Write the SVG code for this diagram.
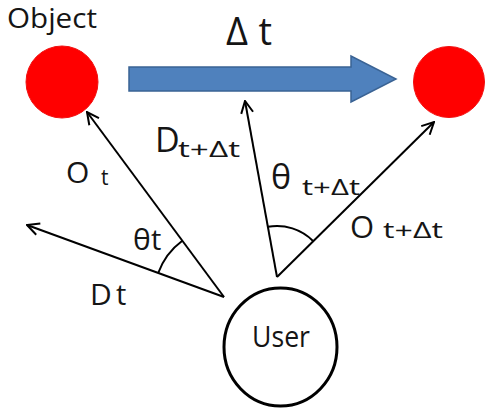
<svg xmlns="http://www.w3.org/2000/svg" width="486" height="410" viewBox="0 0 486 410">
  <defs>
    <marker id="open-arrow" viewBox="0 0 14 14" refX="13" refY="7" markerWidth="14" markerHeight="14" markerUnits="userSpaceOnUse" orient="auto">
      <polyline points="1,1 13,7 1,13" fill="none" stroke="#000" stroke-width="2" stroke-linejoin="miter"/>
    </marker>
  </defs>
  <style>
    text { font-family: "Open Sans", "Liberation Sans", Arial, sans-serif; fill: #151515; }
    .ray { stroke: #000; stroke-width: 2; fill: none; marker-end: url(#open-arrow); }
    .angle { stroke: #000; stroke-width: 2; fill: none; }
    .object { fill: #ff0000; stroke: #f21010; stroke-width: 1; }
    .big { font-size: 30px; }
    .sub { font-size: 21px; }
  </style>

  <rect width="486" height="410" fill="#fff"/>

  <!-- Object at time t -->
  <g id="object-t">
    <text x="7" y="28" font-size="27" textLength="90" lengthAdjust="spacingAndGlyphs">Object</text>
    <circle cx="62" cy="82" r="36" class="object"/>
  </g>

  <!-- Object at time t + Δt -->
  <g id="object-t-dt">
    <circle cx="449" cy="82" r="35.5" class="object"/>
  </g>

  <!-- Motion over Δt -->
  <g id="motion">
    <path d="M129,67 H351 V56 L396,79 L351,102 V91 H129 Z" fill="#4f81bd" stroke="#3a6394" stroke-width="1.5"/>
    <text x="226" y="45" font-size="38" textLength="46" lengthAdjust="spacing">Δt</text>
  </g>

  <!-- User -->
  <g id="user">
    <ellipse cx="280.5" cy="347" rx="56.5" ry="59" fill="#fff" stroke="#000" stroke-width="3"/>
    <text x="281" y="347" font-size="29" text-anchor="middle" textLength="58" lengthAdjust="spacingAndGlyphs">User</text>
  </g>

  <!-- Direction and object rays from the user -->
  <g id="connectors">
    <line x1="224" y1="297" x2="87" y2="112" class="ray"/>
    <line x1="224" y1="297" x2="27" y2="225" class="ray"/>
    <line x1="277" y1="277" x2="245" y2="101" class="ray"/>
    <line x1="277" y1="277" x2="434" y2="122" class="ray"/>
    <path d="M158.2,273 A70,70 0 0 1 182.3,240.7" class="angle"/>
    <path d="M267.9,226.8 A51,51 0 0 1 313.3,241.2" class="angle"/>
  </g>

  <!-- Labels -->
  <g id="label-ot">
    <text x="66" y="183" class="big">O</text>
    <text x="101" y="185" class="sub">t</text>
  </g>
  <g id="label-theta-t">
    <text x="133" y="250" font-size="30">θ</text>
    <text x="151" y="250" font-size="29">t</text>
  </g>
  <g id="label-dt">
    <text x="90" y="305" class="big">D</text>
    <text x="116" y="305" font-size="29">t</text>
  </g>
  <g id="label-d-t-dt">
    <text x="155" y="152" font-size="34">D</text>
    <text x="178" y="157" class="sub" textLength="62" lengthAdjust="spacingAndGlyphs">t+Δt</text>
  </g>
  <g id="label-theta-t-dt">
    <text x="271" y="189" font-size="34">θ</text>
    <text x="302" y="195" class="sub" textLength="58" lengthAdjust="spacingAndGlyphs">t+Δt</text>
  </g>
  <g id="label-o-t-dt">
    <text x="350" y="238" font-size="31">O</text>
    <text x="383" y="238" class="sub" textLength="60" lengthAdjust="spacingAndGlyphs">t+Δt</text>
  </g>
</svg>
